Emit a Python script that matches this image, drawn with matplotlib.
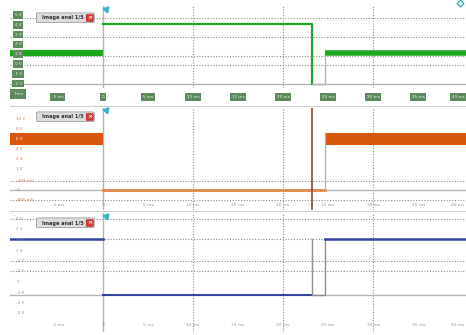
import matplotlib.pyplot as plt
from matplotlib.patches import FancyBboxPatch

W, H = 466, 335

# time axis (ms): 45 px per 5 ms, trigger at x=103
t_min, t_max = -10.3, 40.3
t_fall = 23.2
t_rise = 24.6
tick_times = [-5, 0, 5, 10, 15, 20, 25, 30, 35, 39.4]
tick_names = ["-5 ms", "0", "5 ms", "10 ms", "15 ms", "20 ms", "25 ms", "30 ms", "35 ms", "40 ms"]
grid_times = [10, 20, 30]

# channel 1 (green, logic style)
ch1_t = [t_min, 0, 0, t_fall, t_fall]
ch1_v = [3.1, 3.1, 6.0, 6.0, 0.0]
ch1_t2 = [t_rise, t_max]
ch1_v2 = [3.1, 3.1]
ch1_levels = ["5 V", "4 V", "3 V", "2 V", "1 V", "0 V", "-1 V", "-2 V"]
ch1_grid = [6.6, 4.7, 2.8, 1.9]

# channel 2 (orange)
ch2_high = (4.5, 5.7)
ch2_low = 0.0
ch2_levels = ["10 V", "8 V", "6 V", "4 V", "2 V", "1 V", "-400 mV", "0", "-800 mV"]
ch2_grid = [0.9, -1.0]

# channel 3 (blue)
ch3_high = 5.6
ch3_low = 0.0
ch3_levels = ["4 V", "3 V", "2 V", "1 V", "-1 V", "-2 V", "0", "-3 V", "-4 V", "-5 V"]
ch3_grid = [7.6, 5.6, 3.4, 2.4]

GREEN = "#1ea81e"
ORANGE = "#d9560c"
BLUE = "#34429a"
GRAY = "#b4b4b4"
TXT = "#9a9a9a"


def rect(x0, y0, x1, y1):
    return [x0 / W, 1 - y1 / H, (x1 - x0) / W, (y1 - y0) / H]


def base(ax, ylim, grid):
    ax.set_xlim(t_min, t_max)
    ax.set_ylim(*ylim)
    for s in ax.spines.values():
        s.set_visible(False)
    ax.set_xticks([])
    ax.set_yticks([])
    for g in grid:
        ax.axhline(g, color="#8c8c8c", lw=0.8, ls=(0, (1, 1.5)), zorder=1)
    for g in grid_times:
        ax.axvline(g, color="#8c8c8c", lw=0.8, ls=(0, (1, 1.5)), zorder=1)
    ax.axvline(0, color=GRAY, lw=1.0, zorder=1)
    # trigger marker
    ax.plot([0.35], [ylim[1] - 0.25], marker=(3, 0, 200), ms=5, color="#38b4c4",
            clip_on=False, zorder=6)


def callout(ax, y, text):
    x0 = -7.3
    box = FancyBboxPatch((x0, y - 0.45), 6.3, 0.95, boxstyle="round,pad=0.05,rounding_size=0.3",
                         fc="#dcdcdc", ec="#a0a0a0", lw=0.6, zorder=7, mutation_aspect=0.2)
    ax.add_patch(box)
    ax.text(x0 + 0.5, y, text, fontsize=3.6, color="#333333", va="center", ha="left", zorder=8,
            fontweight="bold")
    ax.text(-1.45, y, "\u00d7", fontsize=4.5, color="white", va="center", ha="center", zorder=9,
            fontweight="bold",
            bbox=dict(boxstyle="round,pad=0.15", fc="#d23a3a", ec="#b02020", lw=0.4))


def time_labels(ax, y):
    for t, n in zip(tick_times, tick_names):
        ax.text(t, y, n, fontsize=3.2, color=TXT, ha="center", va="center", clip_on=False)


fig = plt.figure(figsize=(W / 100, H / 100), dpi=100)
fig.patch.set_facecolor("white")

# ---------- panel 1 ----------
ax1 = fig.add_axes(rect(10, 6, 466, 88))
base(ax1, (-0.4, 7.8), ch1_grid)
ax1.axhline(0, color=GRAY, lw=1.0, zorder=1)
ax1.plot(ch1_t[:2], ch1_v[:2], color=GREEN, lw=4.5, solid_capstyle="butt", zorder=3)
ax1.plot(ch1_t[2:], ch1_v[2:], color=GREEN, lw=1.6, zorder=3)
ax1.plot([t_fall, t_rise, t_rise], [0, 0, ch1_v2[0]], color=GRAY, lw=1.0, zorder=3)
ax1.plot(ch1_t2, ch1_v2, color=GREEN, lw=4.0, solid_capstyle="butt", zorder=3)
for i, lab in enumerate(ch1_levels):
    ax1.text(-9.4, 6.9 - i * 0.98, lab, fontsize=3.0, color="#e8f0e8", ha="center", va="center",
             zorder=8, bbox=dict(boxstyle="square,pad=0.45", fc="#5e8a5e", ec="none"))
ax1.text(-9.4, -1.0, "Time", fontsize=3.0, color="#e8f0e8", ha="center", va="center", clip_on=False,
         zorder=8, bbox=dict(boxstyle="square,pad=0.7", fc="#5e8a5e", ec="none"))
for t, n in zip(tick_times, tick_names):
    ax1.text(t, -1.3, n, fontsize=3.0, color="#e8f0e8", ha="center", va="center", clip_on=False,
             bbox=dict(boxstyle="square,pad=0.45", fc="#5e8a5e", ec="none"))
callout(ax1, 6.6, "Image anal 1/5")
ax1.plot([39.6], [8.1], marker="D", ms=3.5, mfc="none", mec="#38b4c4", clip_on=False)

fig.add_artist(plt.Line2D([10 / W, 1], [1 - 106 / H] * 2, color="#d0d0d0", lw=0.8))

# ---------- panel 2 ----------
ax2 = fig.add_axes(rect(10, 108, 466, 210))
base(ax2, (-2.0, 8.2), ch2_grid)
ax2.axhline(0, color=GRAY, lw=1.0, zorder=1)
ax2.fill_between([t_min, 0], *ch2_high, color=ORANGE, lw=0, zorder=3)
ax2.fill_between([t_rise, t_max], *ch2_high, color=ORANGE, lw=0, zorder=3)
ax2.plot([0, t_rise], [ch2_low, ch2_low], color="#e0884c", lw=2.0, zorder=3)
ax2.plot([t_rise, t_rise], [ch2_low, ch2_high[1]], color=GRAY, lw=1.0, zorder=3)
ax2.axvline(t_fall, color="#8a4a2a", lw=1.2, zorder=4)
for i, lab in enumerate(ch2_levels):
    y = 7.1 - i * 1.0 if i < 6 else [0.9, 0.0, -1.0][i - 6]
    ax2.text(-9.6, y, lab, fontsize=3.0, color="white" if i == 2 else "#d08050",
             ha="left", va="center", zorder=8)
callout(ax2, 7.3, "Image anal 1/5")
time_labels(ax2, -1.55)

fig.add_artist(plt.Line2D([10 / W, 1], [1 - 211 / H] * 2, color="#d0d0d0", lw=0.8))

# ---------- panel 3 ----------
ax3 = fig.add_axes(rect(10, 213, 466, 332))
base(ax3, (-3.7, 8.2), ch3_grid)
ax3.axhline(0, color=GRAY, lw=1.0, zorder=1)
ax3.plot([t_min, 0], [ch3_high, ch3_high], color=BLUE, lw=1.8, zorder=3)
ax3.plot([0, t_fall], [ch3_low, ch3_low], color=BLUE, lw=1.4, zorder=3)
ax3.plot([t_fall, t_fall, t_rise, t_rise], [ch3_high, ch3_low, ch3_low, ch3_high],
         color="#8c8c98", lw=1.0, zorder=3)
ax3.plot([t_rise, t_max], [ch3_high, ch3_high], color=BLUE, lw=1.8, zorder=3)
for i, lab in enumerate(ch3_levels):
    ax3.text(-9.6, 7.6 - i * 1.05, lab, fontsize=3.0, color="#8090c0", ha="left", va="center",
             zorder=8)
callout(ax3, 7.2, "Image anal 1/5")
time_labels(ax3, -3.0)

fig.savefig("out.png", dpi=100, facecolor="white")
